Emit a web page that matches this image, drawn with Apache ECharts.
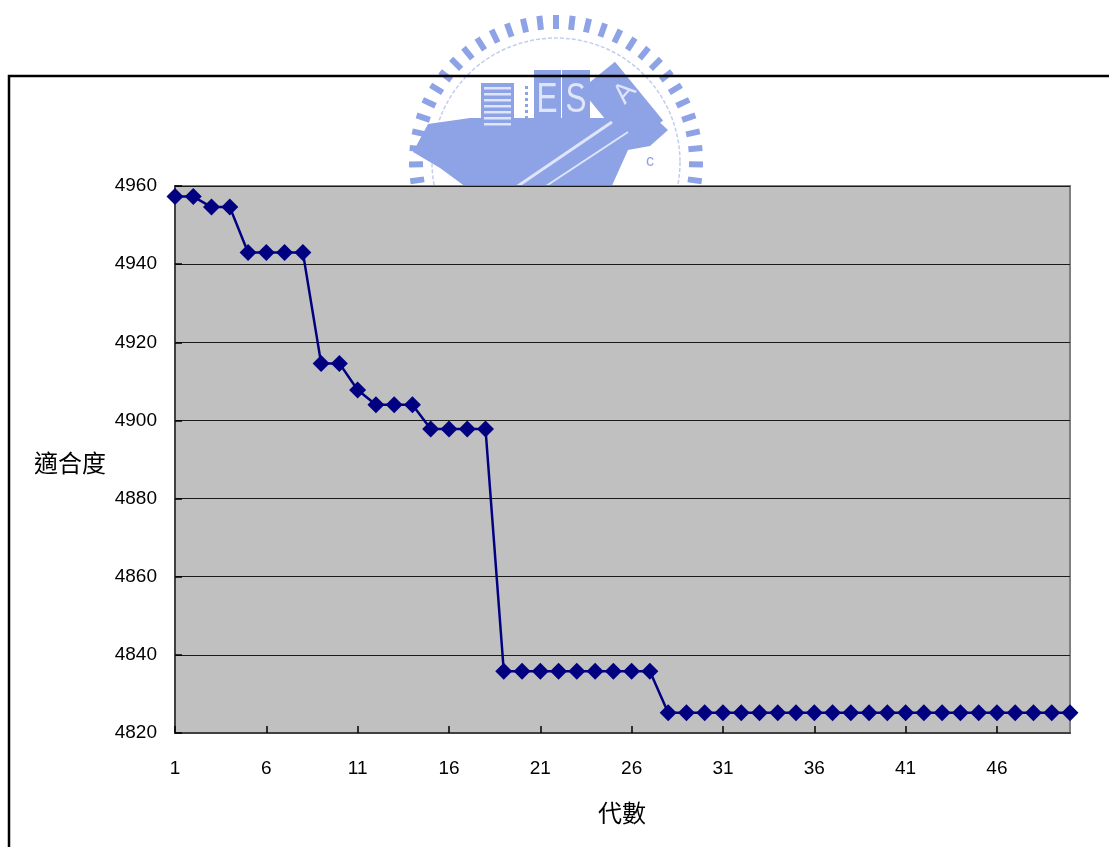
<!DOCTYPE html>
<html>
<head>
<meta charset="utf-8">
<script src="https://cdn.jsdelivr.net/npm/echarts@6/dist/echarts.min.js"></script>
<style>
  html, body { margin: 0; padding: 0; background: #ffffff; }
  #chart { width: 1109px; height: 847px; }
</style>
</head>
<body>
<div id="chart"></div>
<script>
// Generations (x categories)
const generations = ['1','2','3','4','5','6','7','8','9','10',
  '11','12','13','14','15','16','17','18','19','20',
  '21','22','23','24','25','26','27','28','29','30',
  '31','32','33','34','35','36','37','38','39','40',
  '41','42','43','44','45','46','47','48','49','50'];

// Best fitness per generation
const fitness = [4957.3, 4957.3, 4954.6, 4954.6, 4943.0, 4943.0, 4943.0, 4943.0,
  4914.6, 4914.6, 4907.8, 4904.0, 4904.0, 4904.0, 4897.8, 4897.8, 4897.8, 4897.8,
  4835.8, 4835.8, 4835.8, 4835.8, 4835.8, 4835.8, 4835.8, 4835.8, 4835.8,
  4825.2, 4825.2, 4825.2, 4825.2, 4825.2, 4825.2, 4825.2, 4825.2, 4825.2, 4825.2,
  4825.2, 4825.2, 4825.2, 4825.2, 4825.2, 4825.2, 4825.2, 4825.2, 4825.2, 4825.2,
  4825.2, 4825.2, 4825.2];

// Value axis range
const yMin = 4820, yMax = 4960, yStep = 20;

const yTitle = '適合度';
const xTitle = '代數';

// ---- emblem drawn faintly above the plot ----
const emblemColor = '#8ea2e6';
const emblemLight = '#dfe5fa';
const emblemCx = 556, emblemCy = 162, emblemR = 140;
const emblem = [];
for (let a = -194; a <= 14; a += 6.5) {
  const rad = a * Math.PI / 180;
  emblem.push({
    type: 'rect', z: -10,
    x: emblemCx + emblemR * Math.cos(rad),
    y: emblemCy + emblemR * Math.sin(rad),
    rotation: -(a + 90) * Math.PI / 180,
    shape: { x: -3, y: -7, width: 6, height: 14 },
    style: { fill: emblemColor }
  });
}
emblem.push(
  { type: 'circle', z: -10, shape: { cx: emblemCx, cy: emblemCy, r: 124 },
    style: { fill: 'none', stroke: '#c3cdf1', lineWidth: 1.5, lineDash: [4, 2] } },
  // anvil body
  { type: 'polygon', z: -10,
    shape: { points: [[413,152],[428,124],[470,118],[655,118],[668,130],[650,146],[628,150],[610,190],[470,190],[440,168]] },
    style: { fill: emblemColor } },
  // striped block
  { type: 'rect', z: -10, shape: { x: 481, y: 83, width: 33, height: 48 }, style: { fill: emblemColor } },
  // E and S tiles
  { type: 'rect', z: -10, shape: { x: 534, y: 70, width: 27, height: 56 }, style: { fill: emblemColor } },
  { type: 'rect', z: -10, shape: { x: 562, y: 70, width: 28, height: 56 }, style: { fill: emblemColor } },
  { type: 'text', z: -10, x: 547, y: 100, scaleX: 0.75,
    style: { text: 'E', fill: emblemLight, font: '42px "Liberation Sans"', align: 'center', verticalAlign: 'middle' } },
  { type: 'text', z: -10, x: 576, y: 100, scaleX: 0.75,
    style: { text: 'S', fill: emblemLight, font: '42px "Liberation Sans"', align: 'center', verticalAlign: 'middle' } },
  // A tile
  { type: 'rect', z: -10, x: 622, y: 105, rotation: Math.PI / 4 - 0.1,
    shape: { x: -22, y: -38, width: 44, height: 76 }, style: { fill: emblemColor } },
  { type: 'text', z: -10, x: 625, y: 93, rotation: 0.85,
    style: { text: 'A', fill: emblemLight, font: '28px "Liberation Sans"', align: 'center', verticalAlign: 'middle' } },
  // diagonal strokes across the body
  { type: 'line', z: -10, shape: { x1: 512, y1: 190, x2: 612, y2: 122 }, style: { stroke: emblemLight, lineWidth: 3 } },
  { type: 'line', z: -10, shape: { x1: 540, y1: 190, x2: 628, y2: 132 }, style: { stroke: emblemLight, lineWidth: 2 } },
  { type: 'text', z: -10, x: 650, y: 162, style: { text: 'c', fill: emblemColor, font: '16px "Liberation Sans"', align: 'center', verticalAlign: 'middle' } }
);
for (let i = 0; i < 7; i++) {
  emblem.push({ type: 'rect', z: -10, shape: { x: 484, y: 87 + i * 6, width: 27, height: 2.5 }, style: { fill: emblemLight } });
  emblem.push({ type: 'rect', z: -10, shape: { x: 525, y: 86 + i * 6, width: 3, height: 3 }, style: { fill: emblemColor } });
}

const chart = echarts.init(document.getElementById('chart'), null, { renderer: 'canvas' });

chart.setOption({
  backgroundColor: '#ffffff',
  animation: false,
  grid: {
    left: 175, right: 39, top: 186, bottom: 114,
    show: true, backgroundColor: '#c0c0c0', borderColor: '#808080', borderWidth: 2
  },
  graphic: [
    { type: 'group', z: -10, children: emblem },
    // outer frame
    { type: 'polyline', z: 5, shape: { points: [[9, 850], [9, 76], [1112, 76]] },
      style: { fill: 'none', stroke: '#000000', lineWidth: 2.5 } },
    { type: 'text', z: 5, x: 70, y: 463,
      style: { text: yTitle, fill: '#000', font: '24px "Noto Sans CJK TC"', align: 'center', verticalAlign: 'middle' } },
    { type: 'text', z: 5, x: 622, y: 813,
      style: { text: xTitle, fill: '#000', font: '24px "Noto Sans CJK TC"', align: 'center', verticalAlign: 'middle' } }
  ],
  xAxis: {
    type: 'category',
    data: generations,
    boundaryGap: false,
    axisLine: { show: true, lineStyle: { color: '#404040', width: 2 } },
    axisTick: { show: true, inside: true, length: 7, interval: 4, lineStyle: { color: '#000', width: 1.5 } },
    axisLabel: { interval: 4, margin: 26, color: '#000', fontSize: 19, fontFamily: 'Liberation Sans' },
    splitLine: { show: false },
    z: 3
  },
  yAxis: {
    type: 'value',
    min: yMin, max: yMax, interval: yStep,
    axisLine: { show: true, lineStyle: { color: '#404040', width: 2 } },
    axisTick: { show: true, inside: true, length: 7, lineStyle: { color: '#000', width: 1.5 } },
    axisLabel: { margin: 18, color: '#000', fontSize: 19, fontFamily: 'Liberation Sans',
      formatter: function (v) { return String(v); } },
    splitLine: { show: true, lineStyle: { color: '#1a1a1a', width: 1.2 } },
    z: 3
  },
  series: [{
    type: 'line',
    data: fitness,
    symbol: 'diamond',
    symbolSize: 17,
    showAllSymbol: true,
    clip: false,
    lineStyle: { color: '#000080', width: 2.5 },
    itemStyle: { color: '#000080' },
    z: 10
  }]
});
</script>
</body>
</html>
